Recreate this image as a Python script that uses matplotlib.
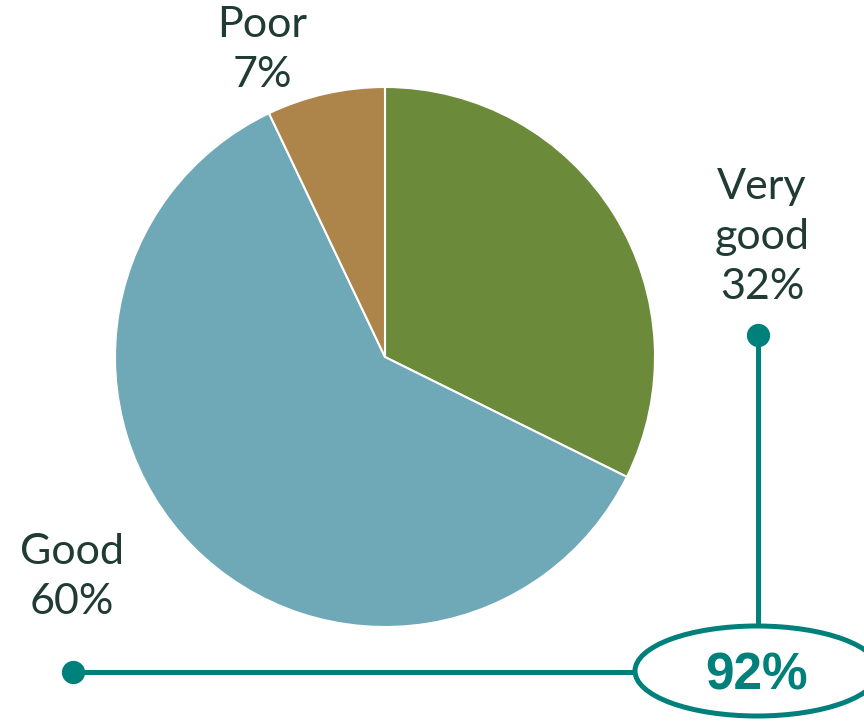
import matplotlib
matplotlib.use("Agg")
import matplotlib.pyplot as plt
from matplotlib.patches import Ellipse

categories = ["Very good", "Good", "Poor"]
values = [32, 60, 7]
colors = ["#6b8a3a", "#6fa8b6", "#ad844a"]
total_label = "92%"

W, H = 864, 721
fig = plt.figure(figsize=(W / 100, H / 100), dpi=100)
ax = fig.add_axes([0, 0, 1, 1])
ax.set_xlim(0, W)
ax.set_ylim(0, H)
ax.set_aspect("equal")
ax.axis("off")

def Y(py):
    return H - py

ax.pie(values, colors=colors, startangle=90, counterclock=False,
       center=(385, Y(357)), radius=270,
       wedgeprops=dict(edgecolor="white", linewidth=1.5))
ax.set_xlim(0, W)
ax.set_ylim(0, H)

txt_color = "#1f3b33"
font = dict(family=["Lato", "DejaVu Sans"], fontweight="normal", fontsize=31,
            color=txt_color, ha="center", va="center", linespacing=1.38)
ax.text(262, Y(50), f"Poor\n{values[2]}%", **font)
ax.text(762, Y(237), f"Very\ngood\n{values[0]}%", **font)
ax.text(72, Y(577), f"Good\n{values[1]}%", **font)

teal = "#00807a"
ax.plot([758, 758], [Y(335), Y(626)], color=teal, lw=3.6, solid_capstyle="butt", zorder=3)
ax.plot([73, 635], [Y(672), Y(672)], color=teal, lw=3.6, solid_capstyle="butt", zorder=3)
ax.scatter([758, 73], [Y(335), Y(672)], s=280, color=teal, zorder=4, linewidths=0)
ax.add_patch(Ellipse((757, Y(671)), 244, 90, fill=False, edgecolor=teal, lw=3.6, zorder=4))
ax.text(757, Y(676), total_label, family=["Liberation Sans", "DejaVu Sans"],
        fontweight="bold", fontsize=37, color=teal, ha="center", va="center", zorder=5)

fig.savefig("out.png", dpi=100)
